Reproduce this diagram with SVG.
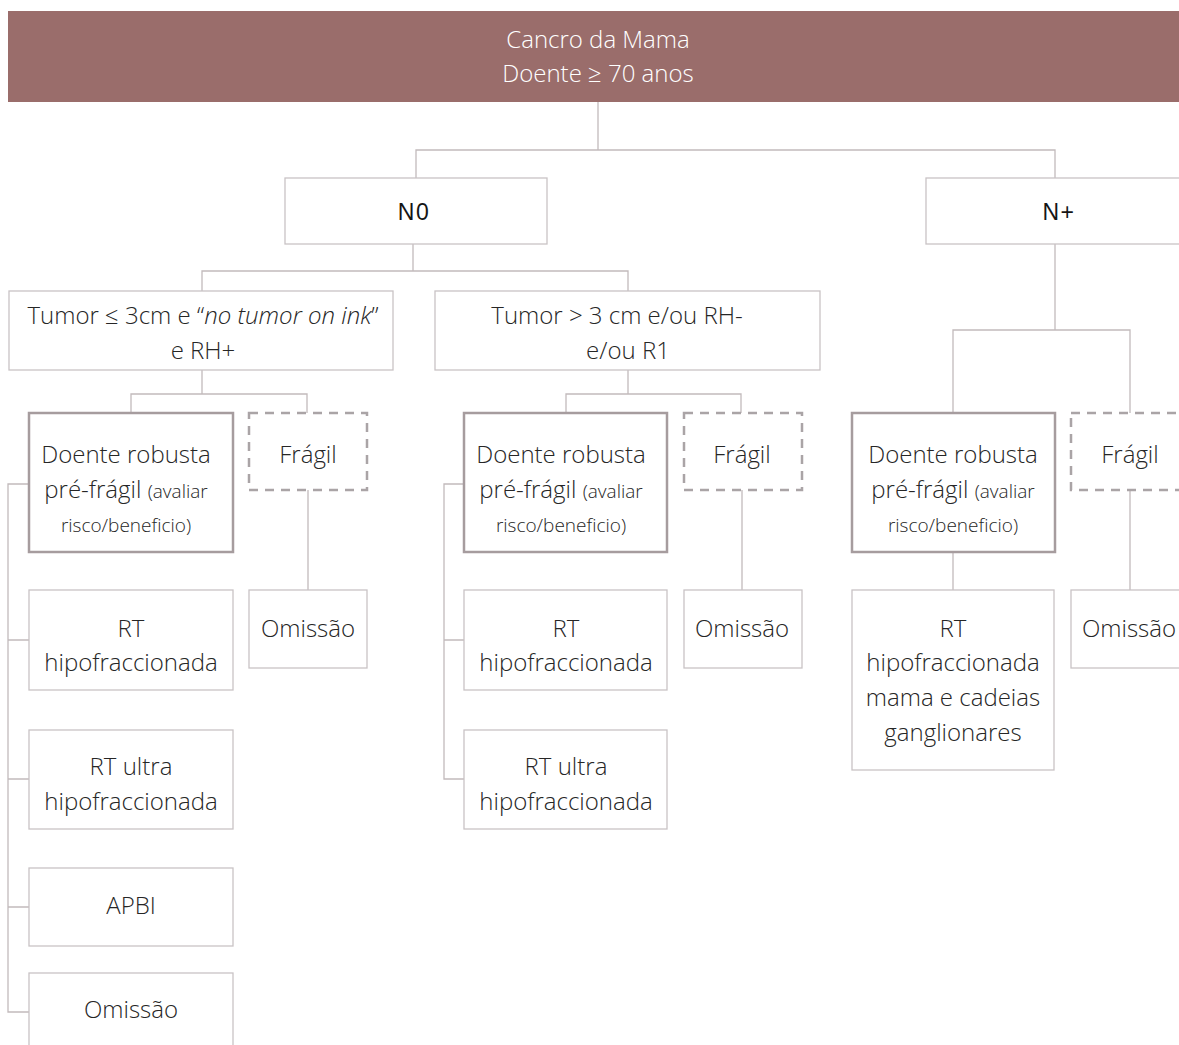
<svg xmlns="http://www.w3.org/2000/svg" width="1179" height="1045" viewBox="0 0 1179 1045">
<style>
.t{font-family:"Open Sans","Noto Sans","Liberation Sans",sans-serif;font-size:24px;fill:#262626;text-anchor:middle;font-weight:300}
.s{font-size:19px}
.h{fill:#fff}
.n{font-family:"Liberation Sans",Arial,sans-serif;font-size:23px;fill:#151515;text-anchor:middle;letter-spacing:1.5px}
.b{fill:#fff;stroke:#c9c3c5;stroke-width:1.3}
.r{fill:#fff;stroke:#a69c9e;stroke-width:2.5}
.d{fill:#fff;stroke:#aaa4a6;stroke-width:2.5;stroke-dasharray:9,7}
.c{fill:none;stroke:#c2babc;stroke-width:1.3}
</style>
<g id="connectors">
<path class="c" d="M598 102V150M416 178V150H1055V178"/>
<path class="c" d="M413 244V271M202 291V271H628V291"/>
<path class="c" d="M202 370V394M131 413V394H307V413"/>
<path class="c" d="M628 370V394M566 413V394H741V413"/>
<path class="c" d="M1055 244V330M953 413V330H1130V413"/>
<path class="c" d="M308 490V590M742 490V590M1130 490V590M953 552V590"/>
<path class="c" d="M29 484H8V1012H29M8 640H29M8 779H29M8 907H29"/>
<path class="c" d="M464 484H444V779H464M444 640H464"/>
</g>
<g id="header">
<rect x="8" y="11" width="1171" height="91" fill="#9a6d6b"/>
<text class="t h" x="598" y="48">Cancro da Mama</text>
<text class="t h" x="598" y="82">Doente ≥ 70 anos</text>
</g>
<g id="n0"><rect class="b" x="285" y="178" width="262" height="66"/><text class="n" x="414" y="220">N0</text></g>
<g id="nplus"><rect class="b" x="926" y="178" width="260" height="66"/><text class="n" x="1059" y="220">N+</text></g>
<g id="tumor1"><rect class="b" x="9" y="291" width="384" height="79"/>
<text class="t" x="203" y="324">Tumor ≤ 3cm e “<tspan font-style="italic">no tumor on ink</tspan>”</text>
<text class="t" x="203" y="359">e RH+</text></g>
<g id="tumor2"><rect class="b" x="435" y="291" width="385" height="79"/>
<text class="t" x="617" y="324">Tumor &gt; 3 cm e/ou RH-</text>
<text class="t" x="628" y="359">e/ou R1</text></g>
<g id="robust1"><rect class="r" x="29" y="413" width="204" height="139"/>
<text class="t" x="126" y="463">Doente robusta</text>
<text class="t" x="126" y="498">pré-frágil <tspan class="s">(avaliar</tspan></text>
<text class="t s" x="126" y="532">risco/beneficio)</text></g>
<g id="fragil1"><rect class="d" x="249" y="413" width="118" height="77"/><text class="t" x="308" y="463">Frágil</text></g>
<g id="omissao1"><rect class="b" x="249" y="590" width="118" height="78"/><text class="t" x="308" y="637">Omissão</text></g>
<g id="rthipo1"><rect class="b" x="29" y="590" width="204" height="100"/>
<text class="t" x="131" y="637">RT</text><text class="t" x="131" y="671">hipofraccionada</text></g>
<g id="rtultra1"><rect class="b" x="29" y="730" width="204" height="99"/>
<text class="t" x="131" y="775">RT ultra</text><text class="t" x="131" y="810">hipofraccionada</text></g>
<g id="apbi"><rect class="b" x="29" y="868" width="204" height="78"/><text class="t" x="131" y="914">APBI</text></g>
<g id="omissao1b"><rect class="b" x="29" y="973" width="204" height="80"/><text class="t" x="131" y="1018">Omissão</text></g>
<g id="robust2"><rect class="r" x="464" y="413" width="203" height="139"/>
<text class="t" x="561" y="463">Doente robusta</text>
<text class="t" x="561" y="498">pré-frágil <tspan class="s">(avaliar</tspan></text>
<text class="t s" x="561" y="532">risco/beneficio)</text></g>
<g id="fragil2"><rect class="d" x="684" y="413" width="118" height="77"/><text class="t" x="742" y="463">Frágil</text></g>
<g id="omissao2"><rect class="b" x="684" y="590" width="118" height="78"/><text class="t" x="742" y="637">Omissão</text></g>
<g id="rthipo2"><rect class="b" x="464" y="590" width="203" height="100"/>
<text class="t" x="566" y="637">RT</text><text class="t" x="566" y="671">hipofraccionada</text></g>
<g id="rtultra2"><rect class="b" x="464" y="730" width="203" height="99"/>
<text class="t" x="566" y="775">RT ultra</text><text class="t" x="566" y="810">hipofraccionada</text></g>
<g id="robust3"><rect class="r" x="852" y="413" width="203" height="139"/>
<text class="t" x="953" y="463">Doente robusta</text>
<text class="t" x="953" y="498">pré-frágil <tspan class="s">(avaliar</tspan></text>
<text class="t s" x="953" y="532">risco/beneficio)</text></g>
<g id="fragil3"><rect class="d" x="1071" y="413" width="130" height="77"/><text class="t" x="1130" y="463">Frágil</text></g>
<g id="omissao3"><rect class="b" x="1071" y="590" width="130" height="78"/><text class="t" x="1129" y="637">Omissão</text></g>
<g id="rthipo3"><rect class="b" x="852" y="590" width="202" height="180"/>
<text class="t" x="953" y="637">RT</text><text class="t" x="953" y="671">hipofraccionada</text>
<text class="t" x="953" y="706">mama e cadeias</text><text class="t" x="953" y="741">ganglionares</text></g>
</svg>
